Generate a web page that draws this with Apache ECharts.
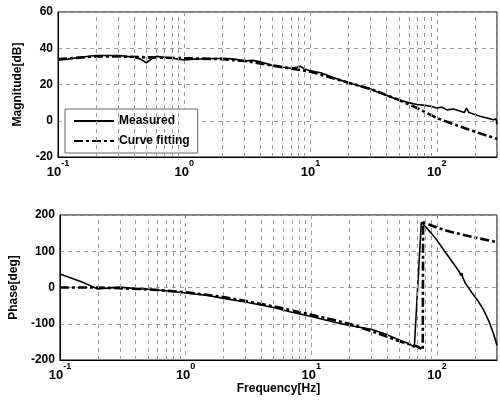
<!DOCTYPE html>
<html>
<head>
<meta charset="utf-8">
<script src="https://cdn.jsdelivr.net/npm/echarts@6/dist/echarts.min.js"></script>
<style>
  html, body { margin: 0; padding: 0; background: #fff; }
  #chart { width: 500px; height: 402px; }
</style>
</head>
<body>
<div id="chart"></div>
<script>
// magnitude, measured
const magFreq = [0.1, 0.12, 0.15, 0.2, 0.25, 0.3, 0.35, 0.4, 0.45, 0.5, 0.55, 0.6, 0.7, 0.8, 0.9, 1.0, 1.2, 1.5, 2.0, 2.5, 3.0, 3.5, 4, 5, 6, 7, 7.8, 8.3, 9, 10, 12, 15, 18, 20, 25, 30, 35, 40, 50, 60, 70, 80, 90, 100, 110, 120, 135, 150, 165, 172, 180, 200, 220, 250, 280, 295, 300];
const magMeas = [33.5, 34, 35, 36, 36, 36, 35.5, 35, 34, 32, 34, 35.5, 35, 34.5, 34, 33.5, 34, 34.2, 34.5, 34, 33, 33.3, 32.5, 30.5, 29.5, 29, 29.5, 30, 28.5, 27.5, 26.5, 24, 22, 21, 19, 17.5, 15.5, 14, 11.5, 10, 9, 8.5, 8, 7, 7.5, 6, 6.5, 5.5, 4.5, 7, 4.5, 3.5, 2.5, 1.5, 0.5, 1, -2];
// magnitude, curve fitting
const fitMagFreq = [0.1, 0.2, 0.3, 0.5, 1, 2, 3, 5, 10, 20, 30, 50, 70, 100, 150, 200, 300];
const fitMag = [34, 35.5, 35.5, 35, 34.5, 34, 33, 30.5, 27, 21, 17.5, 11.5, 7, 1.5, -3, -6, -10];
// phase, measured
const phFreq = [0.1, 0.15, 0.2, 0.25, 0.3, 0.4, 0.5, 0.7, 1, 1.5, 2, 3, 5, 7, 10, 15, 20, 30, 40, 50, 60, 66, 75, 90, 100, 115, 129, 150, 156, 158, 160, 168, 190, 210, 235, 260, 280, 300];
const phMeas = [37, 15, -4, -1, 1, -3, -5, -9, -15, -22, -30, -40, -55, -68, -80, -95, -105, -115, -130, -145, -155, -165, 180, 150, 130, 100, 76, 44, 32, 40, 28, 12, -15, -35, -62, -95, -125, -160];
// phase, curve fitting
const fitPhFreq = [0.1, 0.2, 0.3, 0.5, 1, 2, 5, 10, 20, 30, 50, 70, 77, 77.5, 80, 100, 130, 200, 300];
const fitPh = [0, 0, -2, -5, -13, -26, -52, -75, -100, -120, -148, -163, -172, 180, 178, 165, 153, 138, 125];
// minor grid lines
const minorFreq = [0.2, 0.3, 0.4, 0.5, 0.6, 0.7, 0.8, 0.9, 2, 3, 4, 5, 6, 7, 8, 9, 20, 30, 40, 50, 60, 70, 80, 90, 200];

const pairs = (xs, ys) => xs.map((x, i) => [x, ys[i]]);
const font = "'Liberation Sans', Arial, sans-serif";
const gridLine = { show: true, lineStyle: { color: '#999', type: [4, 4], width: 1 } };

function xAxisOf(gridIndex, withName) {
  return {
    type: 'log', logBase: 10, min: 0.1, max: 300, gridIndex: gridIndex,
    axisLine: { show: true, onZero: false, lineStyle: { color: '#000' } },
    axisTick: { show: false },
    splitLine: gridLine,
    axisLabel: {
      color: '#000', fontFamily: font, margin: 2,
      formatter: function (v) {
        const e = Math.round(Math.log10(v));
        if (Math.abs(Math.log10(v) - e) > 1e-6) return '';
        return '{b|10}{s|' + e + '}';
      },
      rich: {
        b: { fontSize: 13, fontWeight: 'bold', fontFamily: font, color: '#000', verticalAlign: 'bottom', lineHeight: 20 },
        s: { fontSize: 9, fontWeight: 'bold', fontFamily: font, color: '#000', verticalAlign: 'top', lineHeight: 20 }
      }
    },
    name: withName ? 'Frequency[Hz]' : '',
    nameLocation: 'middle', nameGap: 22,
    nameTextStyle: { color: '#000', fontFamily: font, fontSize: 12, fontWeight: 'bold' }
  };
}

function yAxisOf(gridIndex, min, max, interval, name) {
  return {
    type: 'value', gridIndex: gridIndex, min: min, max: max, interval: interval,
    axisLine: { show: true, onZero: false, lineStyle: { color: '#000' } },
    axisTick: { show: false },
    splitLine: gridLine,
    axisLabel: { color: '#000', fontFamily: font, fontSize: 12, fontWeight: 'bold', margin: 5 },
    name: name, nameLocation: 'middle', nameGap: 34,
    nameTextStyle: { color: '#000', fontFamily: font, fontSize: 12, fontWeight: 'bold' }
  };
}

const minorLines = {
  silent: true, symbol: 'none', animation: false,
  label: { show: false },
  lineStyle: { color: '#999', type: [4, 4], width: 1 },
  data: minorFreq.map(f => ({ xAxis: f }))
};

const solid = { color: '#000', width: 1.6, type: 'solid' };
const dashDot = { color: '#000', width: 2.6, type: [9, 3, 3, 3] };

const chart = echarts.init(document.getElementById('chart'));
chart.setOption({
  animation: false,
  backgroundColor: '#fff',
  grid: [
    { left: 58, top: 12, width: 439, height: 145, show: true, borderColor: '#000', borderWidth: 1 },
    { left: 58, top: 215, width: 439, height: 145, show: true, borderColor: '#000', borderWidth: 1 }
  ],
  legend: {
    data: ['Measured', 'Curve fitting'],
    orient: 'vertical', left: 65, top: 109,
    itemWidth: 40, itemHeight: 10, itemGap: 8,
    padding: [6, 8, 6, 8],
    itemStyle: { opacity: 0 },
    backgroundColor: '#fff', borderColor: '#666', borderWidth: 1,
    textStyle: { color: '#000', fontFamily: font, fontSize: 12, fontWeight: 'bold' }
  },
  xAxis: [xAxisOf(0, false), xAxisOf(1, true)],
  yAxis: [yAxisOf(0, -20, 60, 20, 'Magnitude[dB]'), yAxisOf(1, -200, 200, 100, 'Phase[deg]')],
  series: [
    { name: 'Measured', type: 'line', xAxisIndex: 0, yAxisIndex: 0, symbol: 'none',
      data: pairs(magFreq, magMeas), lineStyle: solid, itemStyle: { color: '#000' }, markLine: minorLines, z: 3 },
    { name: 'Curve fitting', type: 'line', xAxisIndex: 0, yAxisIndex: 0, symbol: 'none',
      data: pairs(fitMagFreq, fitMag), lineStyle: dashDot, itemStyle: { color: '#000' }, z: 2 },
    { name: 'Measured', type: 'line', xAxisIndex: 1, yAxisIndex: 1, symbol: 'none',
      data: pairs(phFreq, phMeas), lineStyle: solid, itemStyle: { color: '#000' }, markLine: minorLines, z: 3 },
    { name: 'Curve fitting', type: 'line', xAxisIndex: 1, yAxisIndex: 1, symbol: 'none',
      data: pairs(fitPhFreq, fitPh), lineStyle: dashDot, itemStyle: { color: '#000' }, z: 2 }
  ]
});
</script>
</body>
</html>
